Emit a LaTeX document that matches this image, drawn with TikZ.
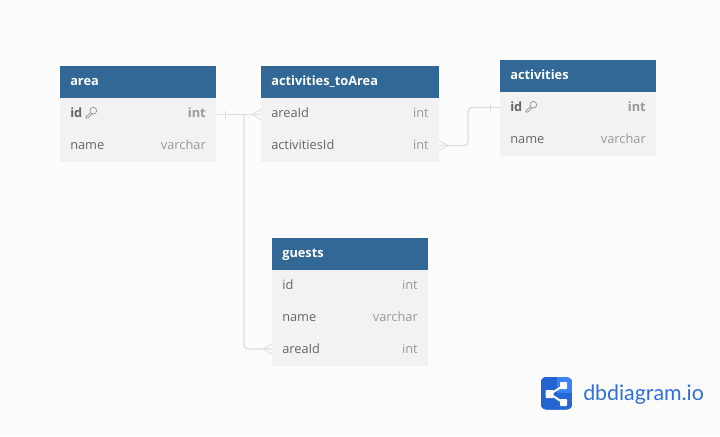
\documentclass[tikz,border=0pt]{standalone}
\usepackage{fontspec}
\setmainfont{Open Sans}
\newfontfamily\logofont{Lato}
\definecolor{pagebg}{HTML}{FCFCFC}
\definecolor{hdr}{HTML}{316896}
\definecolor{rowbg}{HTML}{F2F2F2}
\definecolor{nametxt}{HTML}{666666}
\definecolor{typetxt}{HTML}{999999}
\definecolor{linkc}{HTML}{DEDEDE}
\definecolor{logod}{HTML}{2563D0}
\definecolor{logol}{HTML}{3B82F6}
\definecolor{logot}{HTML}{2F6FD8}
\tikzset{
  x=0.75pt,y=-0.75pt,
  hdrbox/.style={fill=hdr,anchor=north west,inner sep=0pt,minimum width=#1*0.75pt,minimum height=24pt},
  hdrtxt/.style={anchor=base west,inner sep=0pt,text=white,font=\fontsize{9.6}{11}\selectfont\bfseries},
  rowbox/.style={fill=rowbg,anchor=north west,inner sep=0pt,minimum width=#1*0.75pt,minimum height=24pt},
  fname/.style={anchor=base west,inner sep=0pt,text=nametxt,font=\fontsize{9.6}{11}\selectfont},
  fkey/.style={fname,font=\fontsize{9.6}{11}\selectfont\bfseries},
  ftype/.style={anchor=base east,inner sep=0pt,text=typetxt,font=\fontsize{9.6}{11}\selectfont},
  ftypek/.style={ftype,font=\fontsize{9.6}{11}\selectfont\bfseries},
  link/.style={draw=linkc,line width=0.9pt,rounded corners=3pt},
  crow/.style={draw=linkc,line width=0.7pt},
  keyicon/.style={draw=nametxt!85!white,line width=0.4pt},
}
\begin{document}
\begin{tikzpicture}
\useasboundingbox[fill=pagebg] (0,0) rectangle (720,436);
% area
\node[hdrbox=156] (areaH) at (60,66) {};
\node[hdrtxt] (areaL) at (70,85) {area};
\node[rowbox=156] (areaR1) at (60,98) {};
\node[rowbox=156] (areaR2) at (60,130) {};
\node[fkey] (areaN1) at (70,117.5) {id};
\node[ftypek] (areaT1) at (206,117.5) {int};
\node[fname] (areaN2) at (70,149) {name};
\node[ftype] (areaT2) at (206,149) {varchar};
% activities_toArea
\node[hdrbox=178] (taH) at (261,66) {};
\node[hdrtxt] (taL) at (271,85) {activities\_toArea};
\node[rowbox=178] (taR1) at (261,98) {};
\node[rowbox=178] (taR2) at (261,130) {};
\node[fname] (taN1) at (271,117.5) {areaId};
\node[ftype] (taT1) at (429,117.5) {int};
\node[fname] (taN2) at (271,149) {activitiesId};
\node[ftype] (taT2) at (429,149) {int};
% activities
\node[hdrbox=156] (acH) at (500,60) {};
\node[hdrtxt] (acL) at (510,79) {activities};
\node[rowbox=156] (acR1) at (500,92) {};
\node[rowbox=156] (acR2) at (500,124) {};
\node[fkey] (acN1) at (510,111.5) {id};
\node[ftypek] (acT1) at (646,111.5) {int};
\node[fname] (acN2) at (510,143) {name};
\node[ftype] (acT2) at (646,143) {varchar};
% guests
\node[hdrbox=156] (guH) at (272,238) {};
\node[hdrtxt] (guL) at (282,257) {guests};
\node[rowbox=156] (guR1) at (272,270) {};
\node[rowbox=156] (guR2) at (272,302) {};
\node[rowbox=156] (guR3) at (272,334) {};
\node[fname] (guN1) at (282,289) {id};
\node[ftype] (guT1) at (418,289) {int};
\node[fname] (guN2) at (282,321) {name};
\node[ftype] (guT2) at (418,321) {varchar};
\node[fname] (guN3) at (282,353) {areaId};
\node[ftype] (guT3) at (418,353) {int};
% key icons
\foreach \kx/\ky in {91/113,531/107}{
  \draw[keyicon] (\kx+2.3,\ky-2.3) circle[radius=3.4];
  \draw[keyicon,line join=round] (\kx-0.2,\ky-0.4) -- (\kx-5,\ky+3.6) -- (\kx-5,\ky+5) -- (\kx-3.4,\ky+5) -- (\kx+1.2,\ky+0.9);
}
% connectors
\draw[link] (areaR1.east |- 0,114.5) -- (261,114.5);
\draw[link] (244,114.5) -- (244,349) -- (guR3.west |- 0,349);
\draw[link] (taR2.east |- 0,145.5) -- (468,145.5) -- (468,107.5) -- (acR1.west |- 0,107.5);
% ticks
\draw[crow] (225,110.5) -- (225,118.5);
\draw[crow] (490,103.5) -- (490,111.5);
% crow feet
\draw[crow] (261,109.5) -- (252,114.5) -- (261,119.5);
\draw[crow] (272,344) -- (263,349) -- (272,354);
\draw[crow] (439,140.5) -- (448,145.5) -- (439,150.5);
% logo
\begin{scope}
\clip[rounded corners=4.5pt] (540.5,377) rectangle (572.5,409.5);
\fill[logol] (540.5,377) rectangle (572.5,409.5);
\fill[logod] (540.5,377) rectangle (556.5,409.5);
\fill[logod!85!logol] (556.5,393) rectangle (572.5,409.5);
\end{scope}
\draw[white,line width=1.5pt] (563,386) -- (550,394) -- (563,402.5);
\fill[white,rounded corners=0.6pt] (545.5,390) rectangle (553.5,398);
\fill[white,rounded corners=0.6pt] (560,382) rectangle (567,389);
\fill[white,rounded corners=0.6pt] (560,399) rectangle (567,406);
\node[anchor=base west,inner sep=0pt,text=logot,font=\logofont\fontsize{16}{18}\selectfont] (logoT) at (583,400.5) {dbdiagram.io};
\end{tikzpicture}
\end{document}
